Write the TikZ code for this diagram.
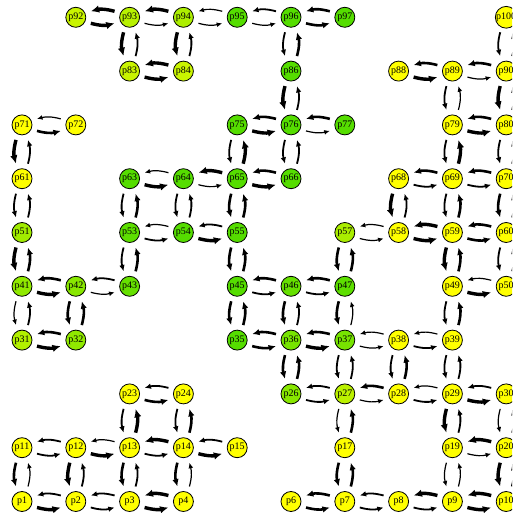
\documentclass[tikz,border=0pt]{standalone}
\usepackage{fontspec}
\setmainfont{Liberation Serif}
\usepackage{xcolor}
\usepackage{tikz}
\usetikzlibrary{arrows.meta,calc}
\definecolor{lo}{HTML}{FFFF00}
\definecolor{hi}{HTML}{55DD00}
\tikzset{
  cell/.style={circle,draw=black,line width=0.8pt,minimum size=20pt,inner sep=0pt,
    font=\fontsize{10}{10}\selectfont},
  flowarr/.style={-{Latex[length=4pt 1.3,width=3.4pt 1.2]},black},
  w1/.style={line width=1.2pt},
  w2/.style={line width=1.8pt},
  w3/.style={line width=2.6pt},
  w4/.style={line width=3.4pt},
}
% a->b and b->a, each bent to its own right side
\newcommand{\pair}[4]{%
  \draw[flowarr,#3] ($(#1)!15pt!(#2)!6pt!-90:(#2)$) to[bend right=15] ($(#2)!15pt!(#1)!6pt!90:(#1)$);
  \draw[flowarr,#4] ($(#2)!15pt!(#1)!6pt!-90:(#1)$) to[bend right=15] ($(#1)!15pt!(#2)!6pt!90:(#2)$);
}
\begin{document}
\begin{tikzpicture}[x=1pt,y=1pt]
  \useasboundingbox (0,0) rectangle (512,513);
  \clip (0,0) rectangle (512,513);
  \foreach \n/\g in {1/0,2/0,3/0,4/0,6/0,7/0,8/0,9/0,10/0,
      11/0,12/0,13/0,14/0,15/0,17/0,19/0,20/0,
      23/0,24/0,26/70,27/40,28/0,29/0,30/0,
      31/45,32/65,35/100,36/80,37/80,38/0,39/0,
      41/65,42/70,43/90,45/100,46/90,47/95,49/0,50/0,
      51/55,53/95,54/100,55/100,57/50,58/0,59/0,60/0,
      61/0,63/100,64/100,65/100,66/100,68/0,69/0,70/0,
      71/0,72/0,75/100,76/100,77/100,79/0,80/0,
      83/32,84/32,86/100,88/0,89/0,90/0,
      92/32,93/42,94/48,95/100,96/100,97/100,100/0}{
    \pgfmathtruncatemacro\c{mod(\n-1,10)}
    \pgfmathtruncatemacro\r{div(\n-1,10)}
    \node[cell,fill=hi!\g!lo] (p\n) at ({22+53.8*\c},{11.5+53.8*\r}) {p\n};
  }
  % row 10 and 9
  \pair{p92}{p93}{w4}{w4} \pair{p93}{p94}{w1}{w4} \pair{p94}{p95}{w1}{w1}
  \pair{p95}{p96}{w1}{w2} \pair{p96}{p97}{w3}{w3}
  \pair{p93}{p83}{w4}{w2} \pair{p94}{p84}{w4}{w2} \pair{p96}{p86}{w2}{w3}
  \pair{p100}{p90}{w2}{w2}
  \pair{p83}{p84}{w4}{w4} \pair{p88}{p89}{w4}{w3} \pair{p89}{p90}{w1}{w3}
  \pair{p86}{p76}{w4}{w2} \pair{p89}{p79}{w2}{w1} \pair{p90}{p80}{w4}{w2}
  % row 8 and 7
  \pair{p71}{p72}{w3}{w1} \pair{p75}{p76}{w4}{w3} \pair{p76}{p77}{w1}{w3}
  \pair{p79}{p80}{w4}{w3}
  \pair{p71}{p61}{w4}{w2} \pair{p75}{p65}{w2}{w4} \pair{p76}{p66}{w2}{w2}
  \pair{p79}{p69}{w2}{w4} \pair{p80}{p70}{w2}{w2}
  \pair{p63}{p64}{w4}{w1} \pair{p64}{p65}{w1}{w4} \pair{p65}{p66}{w4}{w3}
  \pair{p68}{p69}{w2}{w3} \pair{p69}{p70}{w2}{w3}
  % row 6 and 5
  \pair{p61}{p51}{w2}{w2} \pair{p63}{p53}{w2}{w3} \pair{p64}{p54}{w2}{w2}
  \pair{p65}{p55}{w3}{w3} \pair{p68}{p58}{w4}{w2} \pair{p69}{p59}{w2}{w3}
  \pair{p70}{p60}{w3}{w2}
  \pair{p53}{p54}{w2}{w1} \pair{p54}{p55}{w4}{w2} \pair{p57}{p58}{w1}{w1}
  \pair{p58}{p59}{w4}{w4} \pair{p59}{p60}{w3}{w3}
  \pair{p51}{p41}{w4}{w3} \pair{p53}{p43}{w2}{w3} \pair{p55}{p45}{w3}{w3}
  \pair{p57}{p47}{w3}{w3} \pair{p59}{p49}{w4}{w3} \pair{p60}{p50}{w2}{w2}
  \pair{p41}{p42}{w4}{w3} \pair{p42}{p43}{w1}{w2} \pair{p45}{p46}{w2}{w3}
  \pair{p46}{p47}{w2}{w3} \pair{p49}{p50}{w4}{w1}
  % row 4 and 3
  \pair{p41}{p31}{w1}{w2} \pair{p42}{p32}{w3}{w3} \pair{p45}{p35}{w3}{w3}
  \pair{p46}{p36}{w3}{w2} \pair{p47}{p37}{w3}{w1} \pair{p49}{p39}{w2}{w3}
  \pair{p31}{p32}{w4}{w3} \pair{p35}{p36}{w3}{w3} \pair{p36}{p37}{w4}{w3}
  \pair{p37}{p38}{w1}{w1} \pair{p38}{p39}{w2}{w1}
  \pair{p36}{p26}{w3}{w3} \pair{p37}{p27}{w2}{w2} \pair{p38}{p28}{w2}{w3}
  \pair{p39}{p29}{w2}{w2}
  \pair{p23}{p24}{w3}{w2} \pair{p26}{p27}{w2}{w2} \pair{p27}{p28}{w1}{w3}
  \pair{p28}{p29}{w2}{w1} \pair{p29}{p30}{w4}{w2}
  % row 2 and 1
  \pair{p23}{p13}{w2}{w4} \pair{p24}{p14}{w2}{w3} \pair{p27}{p17}{w1}{w3}
  \pair{p29}{p19}{w4}{w2} \pair{p30}{p20}{w1}{w2}
  \pair{p11}{p12}{w2}{w2} \pair{p12}{p13}{w4}{w1} \pair{p13}{p14}{w2}{w4}
  \pair{p14}{p15}{w4}{w2} \pair{p19}{p20}{w1}{w4}
  \pair{p11}{p1}{w3}{w1} \pair{p12}{p2}{w4}{w2} \pair{p13}{p3}{w3}{w2}
  \pair{p14}{p4}{w3}{w1} \pair{p17}{p7}{w3}{w3} \pair{p19}{p9}{w1}{w1}
  \pair{p20}{p10}{w4}{w3}
  \pair{p1}{p2}{w4}{w2} \pair{p2}{p3}{w2}{w2} \pair{p3}{p4}{w4}{w4}
  \pair{p6}{p7}{w3}{w3} \pair{p7}{p8}{w2}{w2} \pair{p8}{p9}{w2}{w4}
  \pair{p9}{p10}{w4}{w4}
\end{tikzpicture}
\end{document}
